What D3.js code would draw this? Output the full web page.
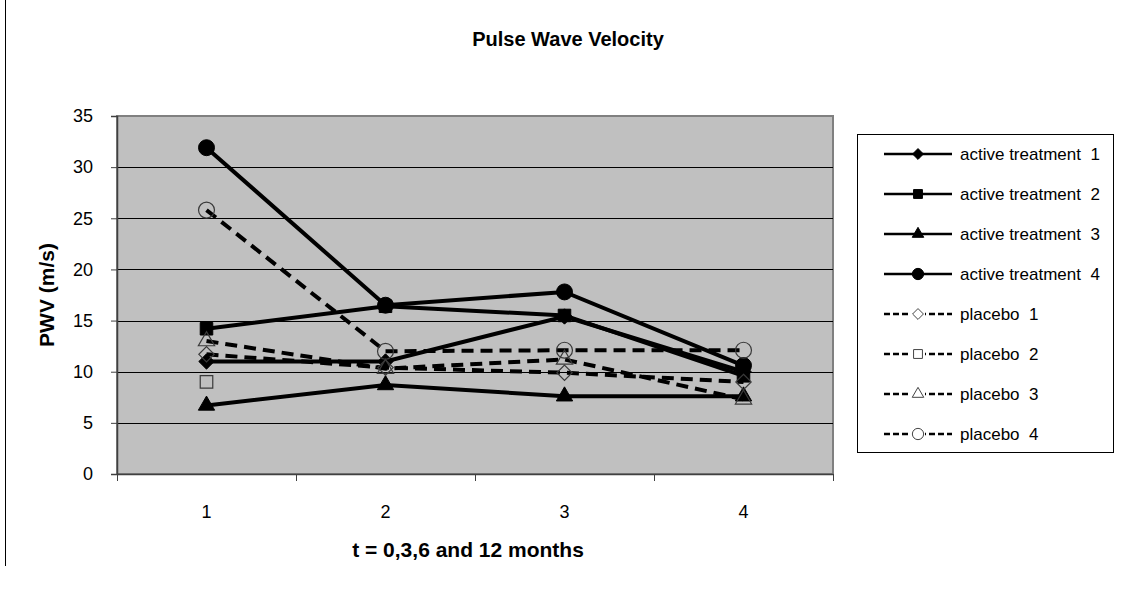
<!DOCTYPE html>
<html>
<head>
<meta charset="utf-8">
<script src="https://cdn.jsdelivr.net/npm/d3@7"></script>
<style>
  body { margin: 0; background: #fff; }
  svg { font-family: "Liberation Sans", Arial, sans-serif; }
</style>
</head>
<body>
<svg id="chart" width="1125" height="592"></svg>
<script>
// Data
const timePoints = ['1', '2', '3', '4'];
const yTicks = [0, 5, 10, 15, 20, 25, 30, 35];

const active1 = [11.0, 11.0, 15.4, 10.0];
const active2 = [14.2, 16.4, 15.5, 9.6];
const active3 = [6.7, 8.7, 7.6, 7.6];
const active4 = [31.9, 16.5, 17.8, 10.6];
const placebo1 = [11.7, 10.4, 9.9, 9.0];
const placebo2 = [9.0, null, null, null];
const placebo3 = [13.0, 10.3, 11.2, 7.3];
const placebo4 = [25.8, 12.0, 12.1, 12.1];

const series = [
  { name: 'active treatment  1', values: active1, marker: 'diamond', dashed: false },
  { name: 'active treatment  2', values: active2, marker: 'square', dashed: false },
  { name: 'active treatment  3', values: active3, marker: 'triangle', dashed: false },
  { name: 'active treatment  4', values: active4, marker: 'circle', dashed: false },
  { name: 'placebo  1', values: placebo1, marker: 'diamond', dashed: true },
  { name: 'placebo  2', values: placebo2, marker: 'square', dashed: true },
  { name: 'placebo  3', values: placebo3, marker: 'triangle', dashed: true },
  { name: 'placebo  4', values: placebo4, marker: 'circle', dashed: true }
];

const svg = d3.select('#chart');

// plot area
const plot = { left: 117, top: 116, right: 833, bottom: 474 };

const x = d3.scaleBand()
  .domain(timePoints)
  .range([plot.left, plot.right]);

const y = d3.scaleLinear()
  .domain([0, 35])
  .range([plot.bottom, plot.top]);

// outer left border line
svg.append('line')
  .attr('x1', 5.5).attr('x2', 5.5)
  .attr('y1', 0).attr('y2', 566)
  .style('stroke', '#000').style('stroke-width', 1);

// background
svg.append('rect')
  .attr('x', plot.left).attr('y', plot.top)
  .attr('width', plot.right - plot.left)
  .attr('height', plot.bottom - plot.top)
  .style('fill', '#c0c0c0')
  .style('stroke', '#808080')
  .style('stroke-width', 2);

// gridlines
svg.append('g')
  .selectAll('line')
  .data(yTicks.filter(t => t > 0 && t < 35))
  .enter().append('line')
  .attr('x1', plot.left).attr('x2', plot.right)
  .attr('y1', d => Math.round(y(d)) + 0.5)
  .attr('y2', d => Math.round(y(d)) + 0.5)
  .style('stroke', '#000')
  .style('stroke-width', 1);

// y axis
const yAxis = svg.append('g')
  .attr('transform', `translate(${plot.left},0)`)
  .call(d3.axisLeft(y).tickValues(yTicks).tickSize(6).tickPadding(18));
yAxis.select('.domain').style('stroke', '#404040').style('stroke-width', 1.5);
yAxis.selectAll('.tick line').style('stroke', '#404040');
yAxis.selectAll('text').style('font-size', '18px').style('fill', '#000');

// x axis
const xAxis = svg.append('g')
  .attr('transform', `translate(0,${plot.bottom})`)
  .call(d3.axisBottom(x).tickSize(0).tickPadding(31));
xAxis.select('.domain').style('stroke', '#404040').style('stroke-width', 1.5);
xAxis.selectAll('text').style('font-size', '18px').style('fill', '#000');

// x ticks between categories
svg.append('g')
  .selectAll('line')
  .data(timePoints.concat(['end']))
  .enter().append('line')
  .attr('x1', (d, i) => Math.round(plot.left + i * x.step()) + 0.5)
  .attr('x2', (d, i) => Math.round(plot.left + i * x.step()) + 0.5)
  .attr('y1', plot.bottom)
  .attr('y2', plot.bottom + 7)
  .style('stroke', '#404040');

// axis titles
svg.append('text')
  .attr('x', 568).attr('y', 46)
  .attr('text-anchor', 'middle')
  .style('font-size', '20px').style('font-weight', 'bold')
  .text('Pulse Wave Velocity');

svg.append('text')
  .attr('x', 468).attr('y', 557)
  .attr('text-anchor', 'middle')
  .style('font-size', '21px').style('font-weight', 'bold')
  .text('t = 0,3,6 and 12 months');

svg.append('text')
  .attr('transform', `translate(54,${(plot.top + plot.bottom) / 2}) rotate(-90)`)
  .attr('text-anchor', 'middle')
  .style('font-size', '21px').style('font-weight', 'bold')
  .text('PWV (m/s)');

// marker shapes
function markerPath(type, big) {
  const s = big ? 1 : 0.5;
  if (type === 'diamond') return d3.symbol().type(d3.symbolDiamond2).size(150 * s)();
  if (type === 'square') return d3.symbol().type(d3.symbolSquare2).size(200 * s)();
  if (type === 'triangle') return d3.symbol().type(d3.symbolTriangle2).size(190 * s)();
  return d3.symbol().type(d3.symbolCircle).size(200 * s)();
}

const line = d3.line()
  .defined(d => d.v !== null)
  .x(d => x(d.t) + x.bandwidth() / 2)
  .y(d => y(d.v));

const lines = svg.append('g');
series.forEach(s => {
  const pts = s.values.map((v, i) => ({ t: timePoints[i], v }));
  lines.append('path')
    .datum(pts)
    .attr('d', line)
    .style('fill', 'none')
    .style('stroke', '#000')
    .style('stroke-width', 4)
    .style('stroke-dasharray', s.dashed ? '12,7' : null);
});

// markers drawn after all lines
series.forEach(s => {
  svg.append('g')
    .selectAll('path')
    .data(s.values.map((v, i) => ({ t: timePoints[i], v })).filter(d => d.v !== null))
    .enter().append('path')
    .attr('transform', d => `translate(${x(d.t) + x.bandwidth() / 2},${y(d.v)})`)
    .attr('d', markerPath(s.marker, true))
    .style('fill', s.dashed ? 'none' : '#000')
    .style('stroke', s.dashed ? '#3a3a3a' : '#000')
    .style('stroke-width', s.dashed ? 1.2 : 1);
});

// legend
const legend = svg.append('g');
legend.append('rect')
  .attr('x', 857.5).attr('y', 134.5)
  .attr('width', 256).attr('height', 318)
  .style('fill', '#fff')
  .style('stroke', '#000')
  .style('stroke-width', 1);

const row = legend.selectAll('.row')
  .data(series)
  .enter().append('g')
  .attr('class', 'row')
  .attr('transform', (d, i) => `translate(0,${154 + i * 40})`);

row.append('line')
  .attr('x1', 884).attr('x2', 952)
  .attr('y1', 0).attr('y2', 0)
  .style('stroke', '#000')
  .style('stroke-width', 2.5)
  .style('stroke-dasharray', d => d.dashed ? '6,3' : null);

row.append('rect')
  .attr('x', 911).attr('y', -6).attr('width', 14).attr('height', 12)
  .style('fill', d => d.dashed ? '#fff' : 'none');

row.append('path')
  .attr('transform', 'translate(918,0)')
  .attr('d', d => markerPath(d.marker, false))
  .style('fill', d => d.dashed ? '#fff' : '#000')
  .style('stroke', d => d.dashed ? '#444' : '#000')
  .style('stroke-width', 1);

row.append('text')
  .attr('x', 960).attr('y', 6)
  .style('font-size', '17px')
  .style('white-space', 'pre')
  .attr('xml:space', 'preserve')
  .text(d => d.name);
</script>
</body>
</html>
